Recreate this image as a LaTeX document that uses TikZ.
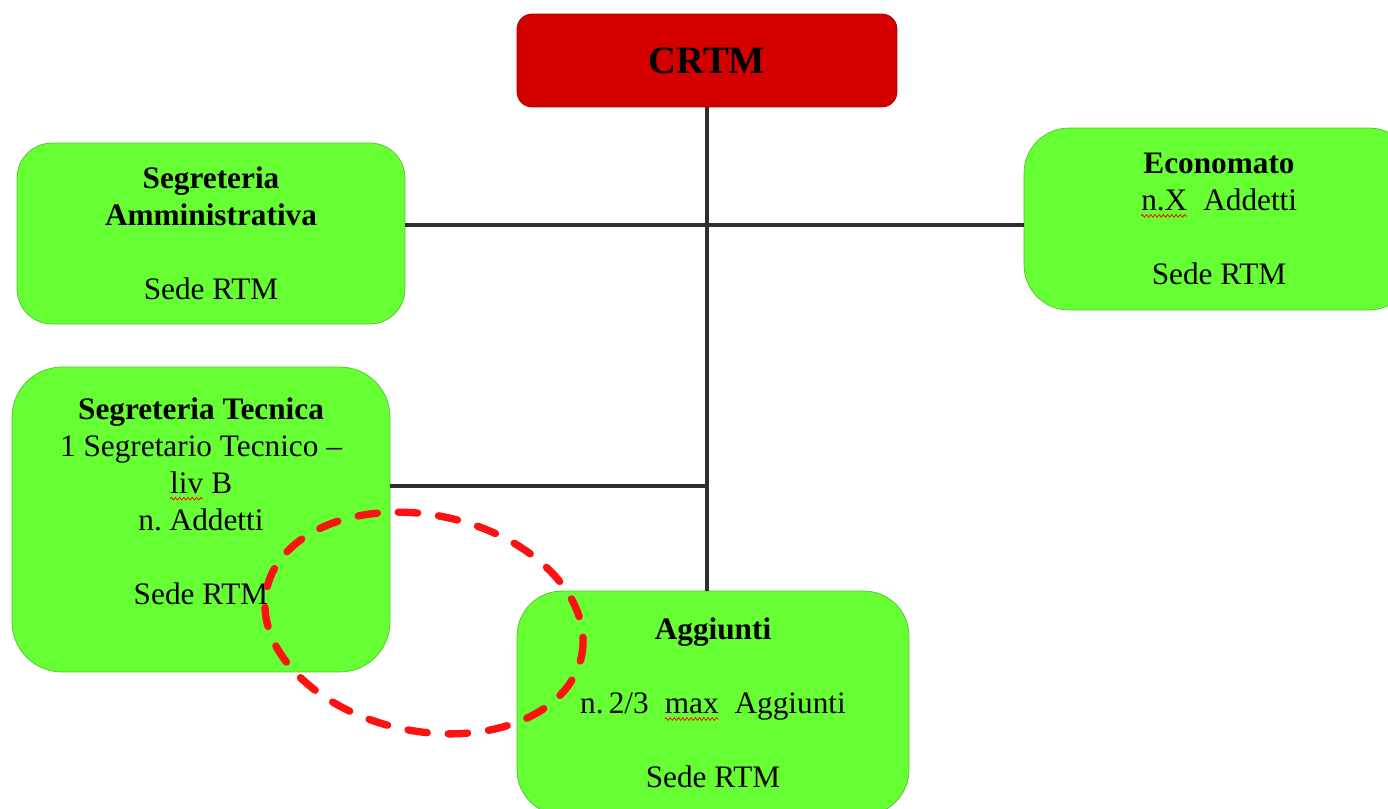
\documentclass[tikz,border=0pt]{standalone}
\usepackage{fontspec}
\setmainfont{Liberation Serif}
\usetikzlibrary{positioning,calc,decorations.pathmorphing}
\definecolor{crtmred}{HTML}{D40000}
\definecolor{crtmedge}{HTML}{A30000}
\definecolor{boxgreen}{HTML}{66FF33}
\definecolor{boxedge}{HTML}{4FC428}
\definecolor{linkgray}{HTML}{2E2E2E}
\definecolor{markred}{HTML}{FF1111}
\newcommand{\squig}[1]{\tikz[baseline=(w.base)]{\node[anchor=base, inner sep=0pt, outer sep=0pt, draw=none, fill=none, sharp corners, minimum width=0pt, minimum height=0pt] (w) at (0,0) {#1};
  \draw[red, line width=0.4pt, sharp corners, decorate, decoration={zigzag, amplitude=0.8pt, segment length=2.4pt}] ([yshift=-3pt]w.base west) -- ([yshift=-3pt]w.base east);}}

\begin{document}
\begin{tikzpicture}[x=0.02cm, y=-0.02cm,
  unit/.style={draw=boxedge, fill=boxgreen, align=center, font=\fontsize{17.8}{21}\selectfont, inner sep=2pt},
  link/.style={draw=linkgray, line width=2pt}]
\clip (0,0) rectangle (1388,808);

\node[draw=crtmedge, fill=crtmred, rounded corners=0.3cm, minimum width=7.6cm, minimum height=1.86cm, font=\fontsize{22}{26}\selectfont\bfseries] (crtm) at (707,60.5) {CRTM};

\node[unit, rounded corners=0.7cm, minimum width=7.76cm, minimum height=3.62cm] (amm) at (211,233.5) {\textbf{Segreteria}\\\textbf{Amministrativa}\\[21pt]Sede RTM};
\node[unit, rounded corners=0.9cm, minimum width=7.8cm, minimum height=3.64cm] (eco) at (1219,219) {\textbf{Economato}\\\squig{n.X}\ \ Addetti\\[21pt]Sede RTM};
\node[unit, rounded corners=1cm, minimum width=7.56cm, minimum height=6.1cm] (tec) at (201,519.5) {\textbf{Segreteria Tecnica}\\1 Segretario Tecnico --\\\squig{liv} B\\n.\ Addetti\\[21pt]Sede RTM\\[0pt]\mbox{}};
\node[unit, rounded corners=0.9cm, minimum width=7.84cm, minimum height=4.48cm] (agg) at (713,703) {\textbf{Aggiunti}\\[21pt]n.\,2/3\ \ \squig{max}\ \ Aggiunti\\[21pt]Sede RTM};

\coordinate (j1) at (707,225);
\coordinate (j2) at (707,486);
\draw[link] (crtm.south) -- (crtm.south |- agg.north);
\draw[link] (amm.east |- j1) -- (eco.west |- j1);
\draw[link] (tec.east |- j2) -- (j2);

\draw[markred, line width=4.2pt, dash pattern=on 11pt off 12pt, line cap=round, rotate around={-12:(424,623)}] (424,623) ellipse [x radius=3.22cm, y radius=2.16cm];
\end{tikzpicture}
\end{document}
